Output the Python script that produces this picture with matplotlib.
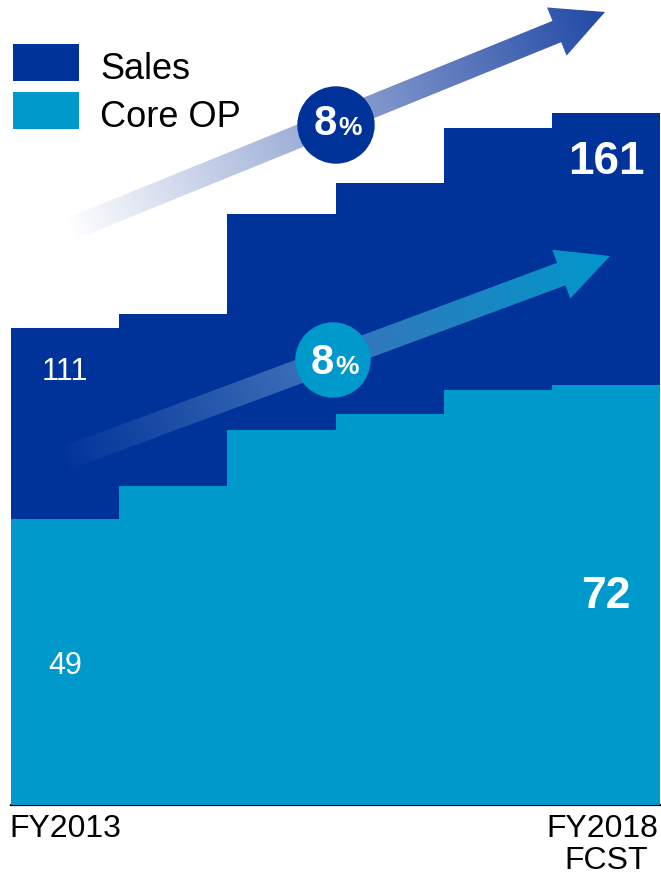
import numpy as np
import matplotlib
matplotlib.use("Agg")
import matplotlib.pyplot as plt
from matplotlib.patches import Polygon, Circle, Rectangle
from matplotlib.colors import LinearSegmentedColormap

plt.rcParams['font.family'] = ['Liberation Sans', 'DejaVu Sans']

# Chart data
years = ["FY2013", "FY2014", "FY2015", "FY2016", "FY2017", "FY2018"]
sales = [111, 114.3, 137.5, 144.7, 157.5, 161]
core_op = [49, 54.7, 64.2, 67.0, 71.1, 72]
growth_sales = "8"
growth_op = "8"

DARK = "#003399"
LIGHT = "#0099cc"

W, H = 661, 875
fig = plt.figure(figsize=(W / 100, H / 100), dpi=100)

# Two value scales, both starting at the same baseline
ax = fig.add_axes([11 / W, 70 / H, 649 / W, 805 / H])
ax2 = ax.twinx()

x = np.arange(len(years))
ax.bar(x, sales, width=1.0, color=DARK, linewidth=0)
ax2.bar(x, core_op, width=1.0, color=LIGHT, linewidth=0)

ax.set_xlim(-0.5, len(years) - 0.5)
ax.set_ylim(0, 187.3)
ax2.set_ylim(0, 137.9)

for a in (ax, ax2):
    for s in ("top", "left", "right"):
        a.spines[s].set_visible(False)
    a.set_yticks([])
    a.set_xticks([])
ax.spines["bottom"].set_linewidth(1.6)
ax.spines["bottom"].set_color("black")
ax2.spines["bottom"].set_visible(False)

# Value labels
ax2.text(0, sales[0] - 12, str(sales[0]), transform=ax.transData, color="white",
         fontsize=22, ha="center", va="baseline")
ax2.text(5, sales[-1] - 14.2, str(sales[-1]), transform=ax.transData, color="white",
         fontsize=33, fontweight="bold", ha="center", va="baseline")
ax2.text(0, core_op[0] - 26.6, str(core_op[0]), color="white",
         fontsize=22, ha="center", va="baseline")
ax2.text(5, core_op[-1] - 38.2, str(core_op[-1]), color="white",
         fontsize=32, fontweight="bold", ha="center", va="baseline")

# Overlay in pixel coordinates for arrows, badges, legend and labels
ov = fig.add_axes([0, 0, 1, 1], zorder=5)
ov.patch.set_visible(False)
ov.axis("off")


def gradient_arrow(axo, tail, tip, shaft_w, head_w, head_len, cmap):
    tail = np.array(tail, float)
    tip = np.array(tip, float)
    d = tip - tail
    L = np.hypot(*d)
    u = d / L
    n = np.array([-u[1], u[0]])
    neck = tip - u * head_len
    pts = np.array([tail + n * shaft_w / 2, neck + n * shaft_w / 2,
                    neck + n * head_w / 2, tip, neck - n * head_w / 2,
                    neck - n * shaft_w / 2, tail - n * shaft_w / 2])
    poly = Polygon(pts, closed=True, facecolor="none", edgecolor="none")
    axo.add_patch(poly)
    x0, x1 = pts[:, 0].min(), pts[:, 0].max()
    y0, y1 = pts[:, 1].min(), pts[:, 1].max()
    gx, gy = np.meshgrid(np.linspace(x0, x1, 600), np.linspace(y0, y1, 300))
    t = ((gx - tail[0]) * u[0] + (gy - tail[1]) * u[1]) / L
    im = axo.imshow(np.clip(t, 0, 1), extent=(x0, x1, y1, y0), origin="upper",
                    cmap=cmap, vmin=0, vmax=1, aspect="auto",
                    interpolation="bilinear")
    im.set_clip_path(poly)


cmap_top = LinearSegmentedColormap.from_list(
    "top", [(0, "#ffffff"), (0.45, "#9aacd6"), (1, "#2249a5")])
cmap_low = LinearSegmentedColormap.from_list(
    "low", [(0, "#04359b"), (0.45, "#3d70b8"), (1, "#0098cb")])

gradient_arrow(ov, (68, 230), (605, 12), 23, 52, 52, cmap_top)
gradient_arrow(ov, (66, 458), (610, 256), 24, 52, 52, cmap_low)

ov.add_patch(Circle((336, 125), 38, color=DARK, zorder=3))
ov.add_patch(Circle((333, 360), 37, color=LIGHT, zorder=3))
for cx, cy, g in [(336, 135, growth_sales), (333, 374, growth_op)]:
    ov.text(cx + 1, cy, g, color="white", fontsize=30, fontweight="bold",
            ha="right", va="baseline", zorder=4)
    ov.text(cx + 2, cy, "%", color="white", fontsize=19, fontweight="bold",
            ha="left", va="baseline", zorder=4)

# Legend
for (y0, col, lab) in [(44, DARK, "Sales"), (92, LIGHT, "Core OP")]:
    ov.add_patch(Rectangle((13, y0), 66, 37, color=col, linewidth=0))
    ov.text(100, y0 + 35, lab, fontsize=26, color="black", va="baseline",
            ha="left")

# Axis labels
ov.text(9, 837, years[0], fontsize=23, ha="left", va="baseline")
ov.text(658, 837, years[-1], fontsize=23, ha="right", va="baseline")
ov.text(606, 869, "FCST", fontsize=23, ha="center", va="baseline")

ov.set_xlim(0, W)
ov.set_ylim(H, 0)

fig.savefig("out.png", dpi=100)
